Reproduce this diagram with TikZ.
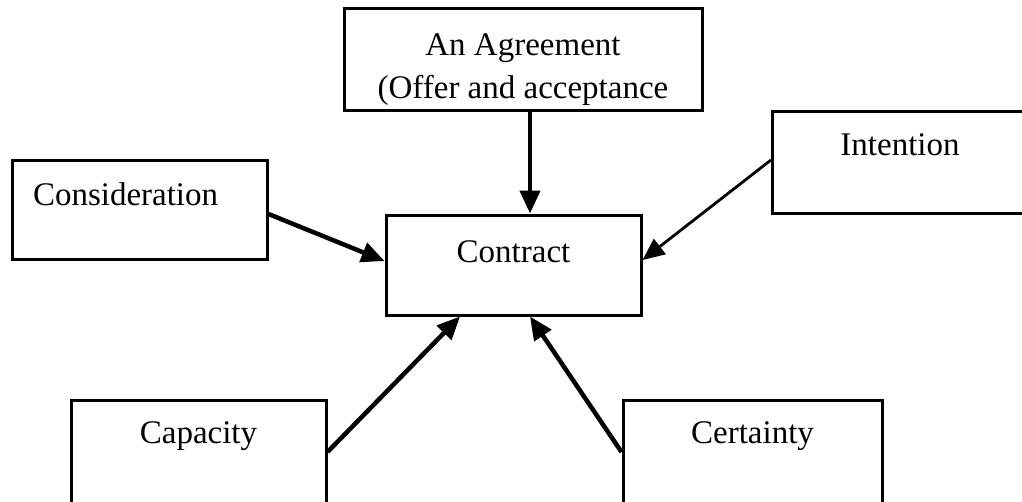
\documentclass[tikz,border=0pt]{standalone}
\usepackage{fontspec}
\setmainfont{Liberation Serif}
\usetikzlibrary{arrows.meta}
\tikzset{
  part/.style={draw, line width=3pt, inner sep=0pt, minimum width=255pt,
    font=\fontsize{33}{43}\selectfont},
  link/.style={-{Triangle[length=23pt,width=20pt]}, line width=4.5pt},
  thinlink/.style={-{Triangle[length=22pt,width=19pt]}, line width=2.8pt}
}
\begin{document}
\begin{tikzpicture}[x=1pt,y=-1pt]
      \useasboundingbox (0,0) rectangle (1022,501);
      \node[part, minimum width=358pt, minimum height=102pt, align=center,
        text height=90pt, text depth=12pt] (agree) at (523,59)
        {An Agreement\\(Offer and acceptance};
      \node[part, minimum height=102pt, text height=44pt, text depth=58pt]
        (intent) at (900,162) {Intention};
      \node[part, minimum height=99pt, align=left, text width=213pt,
        inner xsep=21pt, text height=45pt, text depth=54pt]
        (consid) at (139.5,209.5) {Consideration};
      \node[part, minimum height=100pt, text height=47pt, text depth=53pt]
        (contract) at (513.5,265) {Contract};
      \node[part, minimum height=104pt, text height=43pt, text depth=61pt]
        (capac) at (198.5,452) {Capacity};
      \node[part, minimum width=259pt, minimum height=104pt, text height=43pt,
        text depth=61pt] (certain) at (752.5,452) {Certainty};
      \begin{scope}[link]
        \draw ([xshift=7pt]agree.south) -- ([xshift=7pt]agree.south |- contract.north);
        \draw ([yshift=-4.5pt]consid.east) -- ([yshift=4pt]contract.west);
        \draw[thinlink] ([yshift=2pt]intent.west) -- ([yshift=5pt]contract.east);
        \draw (capac.east) -- ([xshift=-53.5pt]contract.south);
        \draw (certain.west) -- ([xshift=16.5pt]contract.south);
      \end{scope}
    \end{tikzpicture}
\end{document}
